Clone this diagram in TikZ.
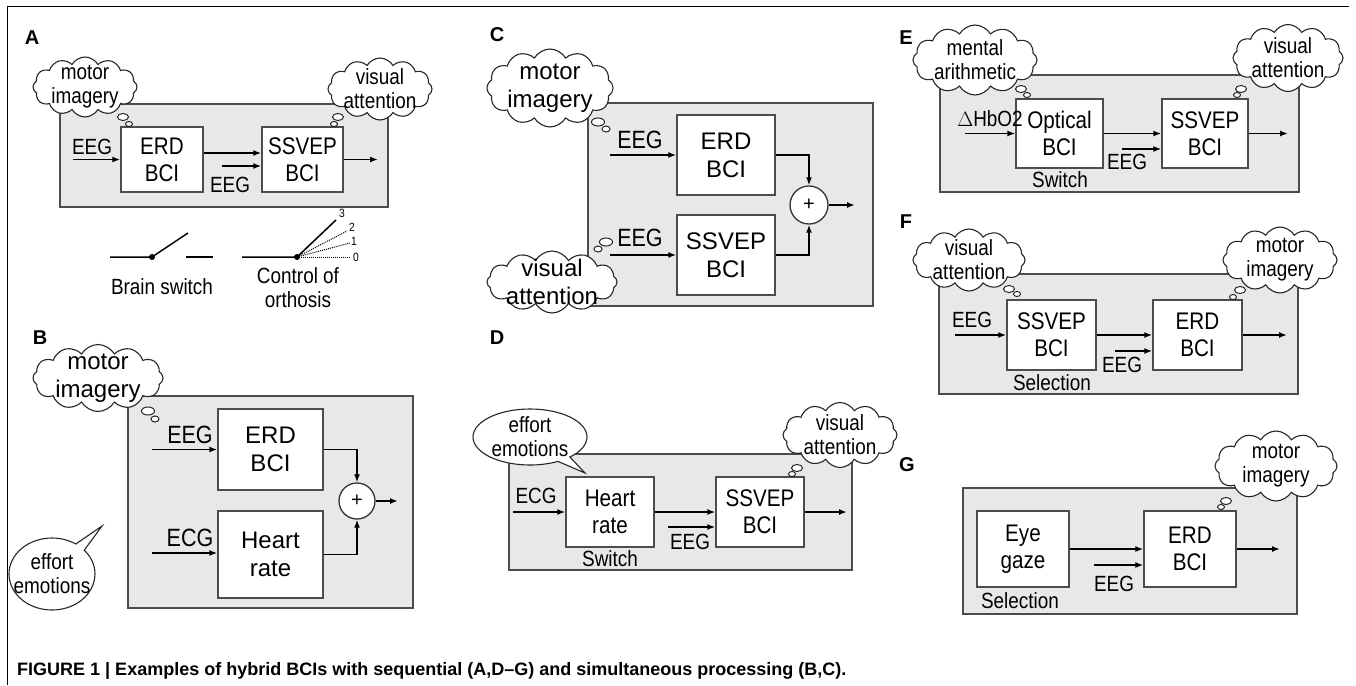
\documentclass[tikz,border=0pt]{standalone}
\usepackage{fontspec}
\setmainfont{Liberation Sans}
\newfontfamily\narrowsf[FakeStretch=0.86]{Liberation Sans}
\usetikzlibrary{shapes.symbols,shapes.callouts,shapes.geometric,arrows.meta}
\tikzset{
  panel/.style={draw=black!70, fill=black!9, line width=1.5pt},
  block/.style={draw=black!70, fill=white, line width=1.4pt, align=center, inner sep=0pt},
  small/.style={font=\narrowsf\fontsize{24}{27}\selectfont},
  note/.style={font=\narrowsf\fontsize{22}{24}\selectfont},
  large/.style={font=\fontsize{24}{28}\selectfont},
  bignote/.style={font=\narrowsf\fontsize{25}{27}\selectfont},
  arr/.style={-{Latex[length=8pt,width=6pt]}, line width=1.6pt},
  txt/.style={inner sep=0pt, align=center},
  thought/.style={cloud, cloud puffs=12, cloud puff arc=120, cloud ignores aspect, draw=black!85, fill=white, line width=1.1pt, inner sep=0pt},
  bubble/.style={ellipse, draw=black!85, fill=white, line width=1pt, inner sep=0pt},
  speech/.style={ellipse callout, draw=black!85, fill=white, line width=1.1pt, inner sep=0pt},
  sum/.style={circle, draw=black!80, fill=white, line width=1.3pt, inner sep=0pt},
  tag/.style={inner sep=0pt, font=\bfseries\fontsize{20}{20}\selectfont},
  wire/.style={line width=1.5pt},
  pivot/.style={circle, fill, inner sep=0pt, minimum size=6pt},
  tick/.style={inner sep=0pt, font=\narrowsf\fontsize{12}{12}\selectfont}
}

\begin{document}
\begin{tikzpicture}[x=1pt,y=-1pt]
\useasboundingbox[fill=white] (0,0) rectangle (1356,685);
\draw[line width=1pt] (7,685) -- (7,7) -- (1349,7);

% A: brain switch
\node[tag] (A) at (32,38) {A};
\draw[panel] (60,104) rectangle (388,207);
\node[block, small, minimum width=82pt, minimum height=65pt] (a-erd) at (162,159.5) {ERD\\BCI};
\node[block, small, minimum width=81pt, minimum height=65pt] (a-ssvep) at (302.5,159.5) {SSVEP\\BCI};
\coordinate (a-in) at (73,159.5);
\coordinate (a-eeg-in) at (222,166);
\coordinate (a-out) at (378,159.5);
\node[txt, note] (a-eeg1) at (92,147) {EEG};
\node[txt, note] (a-eeg2) at (230,185) {EEG};
\draw[arr] (a-in) -- (a-erd);
\draw[arr] ([yshift=6.5pt]a-erd.east) -- ([yshift=6.5pt]a-ssvep.west);
\draw[arr] (a-eeg-in) -- (a-eeg-in -| a-ssvep.west);
\draw[arr] (a-ssvep) -- (a-out);
\node[thought, minimum width=104pt, minimum height=60pt] (a-mi) at (85,87) {};
\node[txt, note] (a-mi-t) at (a-mi) {motor\\imagery};
\node[bubble, minimum width=11pt, minimum height=7pt] (a-mi-b1) at (123,117) {};
\node[bubble, minimum width=7pt, minimum height=5pt] (a-mi-b2) at (129,124) {};
\node[thought, minimum width=104pt, minimum height=62pt] (a-va) at (380,89) {};
\node[txt, note] (a-va-t) at (a-va) {visual\\attention};
\node[bubble, minimum width=11pt, minimum height=7pt] (a-va-b1) at (338,117) {};
\node[bubble, minimum width=7pt, minimum height=5pt] (a-va-b2) at (334,124) {};

% switch symbols
\coordinate (bs-l) at (110,257);
\node[pivot] (bs-p) at (152,257) {};
\coordinate (bs-tip) at (188,233);
\coordinate (bs-r1) at (186,257);
\coordinate (bs-r2) at (213,257);
\draw[wire] (bs-l) -- (bs-p.center) -- (bs-tip);
\draw[wire] (bs-r1) -- (bs-r2);
\node[txt, note] (bs-t) at (162,287) {Brain switch};
\coordinate (or-l) at (242,257);
\node[pivot] (or-p) at (297,257) {};
\coordinate (or-3) at (336,220);
\coordinate (or-2) at (347,231);
\coordinate (or-1) at (350,243);
\coordinate (or-0) at (351,257);
\draw[wire] (or-l) -- (or-p.center) -- (or-3);
\foreach \k in {0,1,2} \draw[densely dotted, line width=1pt] (or-p.center) -- (or-\k);
\node[tick] (or-t3) at (342,213) {3};
\node[tick] (or-t2) at (352,227) {2};
\node[tick] (or-t1) at (354,241) {1};
\node[tick] (or-t0) at (356,257) {0};
\node[txt, note] (or-t) at (298,288) {Control of\\orthosis};

% B: simultaneous, ERD + heart rate
\node[tag] (B) at (40,338) {B};
\draw[panel] (128,396) rectangle (413,608);
\node[block, large, minimum width=105pt, minimum height=81pt] (b-erd) at (270.5,449.5) {ERD\\BCI};
\node[block, large, minimum width=105pt, minimum height=87pt] (b-heart) at (270.5,554.5) {Heart\\rate};
\node[sum, minimum size=36pt, font=\fontsize{20}{20}\selectfont] (b-sum) at (357,501) {+};
\coordinate (b-in1) at (152,449.5);
\coordinate (b-in2) at (152,553);
\coordinate (b-out) at (398,501);
\node[txt, bignote] (b-eeg) at (190,435) {EEG};
\node[txt, bignote] (b-ecg) at (190,538) {ECG};
\draw[arr] (b-in1) -- (b-erd);
\draw[arr] (b-in2) -- (b-in2 -| b-heart.west);
\draw[arr] (b-erd.east) -| (b-sum.north);
\draw[arr] (b-heart.east) -| (b-sum.south);
\draw[arr] (b-sum) -- (b-out);
\node[thought, minimum width=130pt, minimum height=67pt] (b-mi) at (98,378) {};
\node[txt, large] (b-mi-t) at (b-mi) {motor\\imagery};
\node[bubble, minimum width=13pt, minimum height=8pt] (b-mi-b1) at (148,411) {};
\node[bubble, minimum width=8pt, minimum height=6pt] (b-mi-b2) at (155,419) {};
\node[speech, minimum width=86pt, minimum height=72pt, callout absolute pointer={(102,526)}] (b-ee) at (52,574) {};
\node[txt, note] (b-ee-t) at (b-ee) {effort\\emotions};

% C: simultaneous, ERD + SSVEP
\node[tag] (C) at (497,35) {C};
\draw[panel] (588,103) rectangle (873,306);
\node[block, large, minimum width=98pt, minimum height=80pt] (c-erd) at (726,155) {ERD\\BCI};
\node[block, large, minimum width=98pt, minimum height=80pt] (c-ssvep) at (726,255) {SSVEP\\BCI};
\node[sum, minimum size=38pt, font=\fontsize{20}{20}\selectfont] (c-sum) at (809,205) {+};
\coordinate (c-in1) at (610,155);
\coordinate (c-in2) at (610,255);
\coordinate (c-out) at (855,205);
\node[txt, bignote] (c-eeg1) at (640,140) {EEG};
\node[txt, bignote] (c-eeg2) at (640,238) {EEG};
\draw[arr] (c-in1) -- (c-erd);
\draw[arr] (c-in2) -- (c-ssvep);
\draw[arr] (c-erd.east) -| (c-sum.north);
\draw[arr] (c-ssvep.east) -| (c-sum.south);
\draw[arr] (c-sum) -- (c-out);
\node[thought, minimum width=126pt, minimum height=78pt] (c-mi) at (550,88) {};
\node[txt, large] (c-mi-t) at (c-mi) {motor\\imagery};
\node[bubble, minimum width=13pt, minimum height=8pt] (c-mi-b1) at (598,122) {};
\node[bubble, minimum width=8pt, minimum height=6pt] (c-mi-b2) at (606,129) {};
\node[thought, minimum width=130pt, minimum height=62pt] (c-va) at (552,282) {};
\node[txt, large] (c-va-t) at (c-va) {visual\\attention};
\node[bubble, minimum width=8pt, minimum height=6pt] (c-va-b1) at (598,249) {};
\node[bubble, minimum width=13pt, minimum height=8pt] (c-va-b2) at (606,242) {};

% D: heart rate switch
\node[tag] (D) at (497,338) {D};
\draw[panel] (509,454) rectangle (852,570);
\node[block, small, minimum width=88pt, minimum height=70pt] (d-heart) at (610,512) {Heart\\rate};
\node[block, small, minimum width=88pt, minimum height=70pt] (d-ssvep) at (760,512) {SSVEP\\BCI};
\coordinate (d-in) at (513,512);
\coordinate (d-eeg-in) at (668,527);
\coordinate (d-out) at (847,512);
\node[txt, note] (d-ecg) at (536,496) {ECG};
\node[txt, note] (d-eeg) at (690,542) {EEG};
\node[txt, note] (d-sw) at (610,559) {Switch};
\draw[arr] (d-in) -- (d-heart);
\draw[arr] (d-heart) -- (d-ssvep);
\draw[arr] (d-eeg-in) -- (d-eeg-in -| d-ssvep.west);
\draw[arr] (d-ssvep) -- (d-out);
\node[speech, minimum width=114pt, minimum height=56pt, callout absolute pointer={(585,473)}] (d-ee) at (530,437) {};
\node[txt, note] (d-ee-t) at (d-ee) {effort\\emotions};
\node[thought, minimum width=114pt, minimum height=65pt] (d-va) at (840,435) {};
\node[txt, note] (d-va-t) at (d-va) {visual\\attention};
\node[bubble, minimum width=11pt, minimum height=7pt] (d-va-b1) at (797,468) {};
\node[bubble, minimum width=7pt, minimum height=5pt] (d-va-b2) at (792,474) {};

% E: optical switch
\node[tag] (E) at (906,38) {E};
\draw[panel] (940,75) rectangle (1299,192);
\node[block, small, minimum width=87pt, minimum height=69pt] (e-opt) at (1059.5,133.5) {Optical\\BCI};
\node[block, small, minimum width=86pt, minimum height=69pt] (e-ssvep) at (1205,133.5) {SSVEP\\BCI};
\coordinate (e-in) at (965,133.5);
\coordinate (e-eeg-in) at (1122,149);
\coordinate (e-out) at (1288,133.5);
\node[txt, note] (e-hbo) at (990,119) {$\Delta$HbO2};
\node[txt, note] (e-eeg) at (1127,162) {EEG};
\node[txt, note] (e-sw) at (1060,180) {Switch};
\draw[arr] (e-in) -- (e-opt);
\draw[arr] (e-opt) -- (e-ssvep);
\draw[arr] (e-eeg-in) -- (e-eeg-in -| e-ssvep.west);
\draw[arr] (e-ssvep) -- (e-out);
\node[thought, minimum width=124pt, minimum height=70pt] (e-ma) at (975,60) {};
\node[txt, note] (e-ma-t) at (e-ma) {mental\\arithmetic};
\node[bubble, minimum width=11pt, minimum height=7pt] (e-ma-b1) at (1021,89) {};
\node[bubble, minimum width=7pt, minimum height=5pt] (e-ma-b2) at (1027,95) {};
\node[thought, minimum width=110pt, minimum height=67pt] (e-va) at (1288,58) {};
\node[txt, note] (e-va-t) at (e-va) {visual\\attention};
\node[bubble, minimum width=11pt, minimum height=7pt] (e-va-b1) at (1241,89) {};
\node[bubble, minimum width=7pt, minimum height=5pt] (e-va-b2) at (1237,95) {};

% F: SSVEP selection
\node[tag] (F) at (906,222) {F};
\draw[panel] (939,274) rectangle (1298,394);
\node[block, small, minimum width=89pt, minimum height=70pt] (f-ssvep) at (1051.5,335) {SSVEP\\BCI};
\node[block, small, minimum width=89pt, minimum height=70pt] (f-erd) at (1197.5,335) {ERD\\BCI};
\coordinate (f-in) at (955,335);
\coordinate (f-eeg-in) at (1115,351);
\coordinate (f-out) at (1287,335);
\node[txt, note] (f-eeg1) at (972,320) {EEG};
\node[txt, note] (f-eeg2) at (1122,365) {EEG};
\node[txt, note] (f-sel) at (1052,383) {Selection};
\draw[arr] (f-in) -- (f-ssvep);
\draw[arr] (f-ssvep) -- (f-erd);
\draw[arr] (f-eeg-in) -- (f-eeg-in -| f-erd.west);
\draw[arr] (f-erd) -- (f-out);
\node[thought, minimum width=112pt, minimum height=62pt] (f-va) at (969,260) {};
\node[txt, note] (f-va-t) at (f-va) {visual\\attention};
\node[bubble, minimum width=11pt, minimum height=7pt] (f-va-b1) at (1009,289) {};
\node[bubble, minimum width=7pt, minimum height=5pt] (f-va-b2) at (1017,294) {};
\node[thought, minimum width=114pt, minimum height=66pt] (f-mi) at (1280,260) {};
\node[txt, note] (f-mi-t) at (f-mi) {motor\\imagery};
\node[bubble, minimum width=11pt, minimum height=7pt] (f-mi-b1) at (1240,290) {};
\node[bubble, minimum width=7pt, minimum height=5pt] (f-mi-b2) at (1233,297) {};

% G: eye gaze selection
\node[tag] (G) at (907,465) {G};
\draw[panel] (963,488) rectangle (1297,614);
\node[block, small, minimum width=92pt, minimum height=76pt] (g-eye) at (1023,549) {Eye\\gaze};
\node[block, small, minimum width=92pt, minimum height=76pt] (g-erd) at (1190,549) {ERD\\BCI};
\coordinate (g-eeg-in) at (1094,565);
\coordinate (g-out) at (1280,549);
\node[txt, note] (g-eeg) at (1114,584) {EEG};
\node[txt, note] (g-sel) at (1020,601) {Selection};
\draw[arr] (g-eye) -- (g-erd);
\draw[arr] (g-eeg-in) -- (g-eeg-in -| g-erd.west);
\draw[arr] (g-erd) -- (g-out);
\node[thought, minimum width=122pt, minimum height=70pt] (g-mi) at (1276,466) {};
\node[txt, note] (g-mi-t) at (g-mi) {motor\\imagery};
\node[bubble, minimum width=11pt, minimum height=7pt] (g-mi-b1) at (1226,501) {};
\node[bubble, minimum width=7pt, minimum height=5pt] (g-mi-b2) at (1221,507) {};

\node[anchor=base west, inner sep=0pt, font=\bfseries\fontsize{18}{18}\selectfont] (caption) at (17,675)
  {FIGURE 1 | Examples of hybrid BCIs with sequential (A,D–G) and simultaneous processing (B,C).};
\end{tikzpicture}
\end{document}
